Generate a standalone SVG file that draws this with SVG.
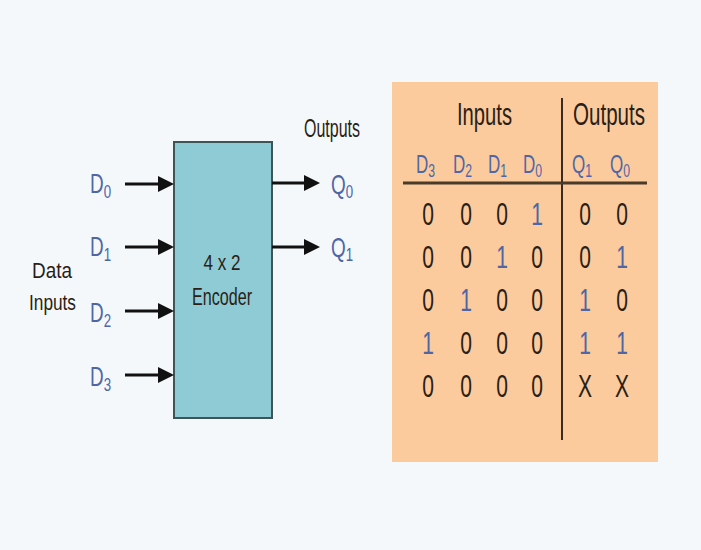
<svg xmlns="http://www.w3.org/2000/svg" width="701" height="550" viewBox="0 0 701 550">
<style>
text{font-family:"Liberation Sans",Arial,sans-serif}
.dk{fill:#2a1e16}
.bl{fill:#4f66a6}
.lbl{font-size:27px}
.sub{font-size:19px}
.hd{font-size:25px}
.hsub{font-size:18px}
.dg{font-size:31px;text-anchor:middle}
.conn{stroke:#111;stroke-width:3;fill:none;marker-end:url(#ah)}
</style>
<defs>
<marker id="ah" markerUnits="userSpaceOnUse" markerWidth="16" markerHeight="16" refX="0" refY="8" orient="auto">
<path d="M0,0 L16,8 L0,16 Z" fill="#111"/>
</marker>
</defs>
<rect x="0" y="0" width="701" height="550" fill="#f5f8fb"/>

<g id="encoder">
<rect x="174" y="142" width="98" height="276" fill="#8ecbd4" stroke="#3d5557" stroke-width="2"/>
<text class="dk" x="222" y="270" font-size="22" text-anchor="middle" textLength="37" lengthAdjust="spacingAndGlyphs">4 x 2</text>
<text class="dk" x="222" y="305" font-size="23" text-anchor="middle" textLength="60" lengthAdjust="spacingAndGlyphs">Encoder</text>
</g>

<g id="connectors">
<line class="conn" x1="125" y1="184" x2="158" y2="184"/>
<line class="conn" x1="125" y1="247" x2="158" y2="247"/>
<line class="conn" x1="125" y1="311" x2="158" y2="311"/>
<line class="conn" x1="125" y1="375" x2="158" y2="375"/>
<line class="conn" x1="272" y1="183" x2="304" y2="183"/>
<line class="conn" x1="272" y1="247" x2="304" y2="247"/>
</g>

<g id="input-labels">
<text class="dk" x="32" y="278" font-size="22" textLength="40" lengthAdjust="spacingAndGlyphs">Data</text>
<text class="dk" x="29" y="310" font-size="22" textLength="47" lengthAdjust="spacingAndGlyphs">Inputs</text>
<text class="bl lbl" transform="translate(90,193) scale(0.7,1)">D<tspan class="sub" dy="5">0</tspan></text>
<text class="bl lbl" transform="translate(90,256) scale(0.7,1)">D<tspan class="sub" dy="5">1</tspan></text>
<text class="bl lbl" transform="translate(90,322) scale(0.7,1)">D<tspan class="sub" dy="5">2</tspan></text>
<text class="bl lbl" transform="translate(90,386) scale(0.7,1)">D<tspan class="sub" dy="5">3</tspan></text>
</g>

<g id="output-labels">
<text class="dk" x="304" y="137" font-size="25" textLength="56" lengthAdjust="spacingAndGlyphs">Outputs</text>
<text class="bl lbl" transform="translate(331,194) scale(0.7,1)">Q<tspan class="sub" dy="4">0</tspan></text>
<text class="bl lbl" transform="translate(331,257) scale(0.7,1)">Q<tspan class="sub" dy="4">1</tspan></text>
</g>

<g id="truth-table">
<rect x="392" y="82" width="266" height="380" fill="#fbcb9e"/>
<line x1="562" y1="98" x2="562" y2="440" stroke="#3a2a20" stroke-width="2"/>
<line x1="403" y1="183" x2="647" y2="183" stroke="#4a3a2a" stroke-width="3"/>
<text class="dk" x="457" y="125" font-size="31" textLength="55" lengthAdjust="spacingAndGlyphs">Inputs</text>
<text class="dk" x="573" y="125" font-size="31" textLength="72" lengthAdjust="spacingAndGlyphs">Outputs</text>
<text class="bl hd" transform="translate(416,173) scale(0.68,1)">D<tspan class="hsub" dy="4">3</tspan></text>
<text class="bl hd" transform="translate(453,173) scale(0.68,1)">D<tspan class="hsub" dy="4">2</tspan></text>
<text class="bl hd" transform="translate(488,173) scale(0.68,1)">D<tspan class="hsub" dy="4">1</tspan></text>
<text class="bl hd" transform="translate(523,173) scale(0.68,1)">D<tspan class="hsub" dy="4">0</tspan></text>
<text class="bl hd" transform="translate(572,173) scale(0.68,1)">Q<tspan class="hsub" dy="4">1</tspan></text>
<text class="bl hd" transform="translate(610,173) scale(0.68,1)">Q<tspan class="hsub" dy="4">0</tspan></text>

<text class="dk dg" transform="translate(428,225) scale(0.68,1)">0</text>
<text class="dk dg" transform="translate(466,225) scale(0.68,1)">0</text>
<text class="dk dg" transform="translate(502,225) scale(0.68,1)">0</text>
<text class="bl dg" transform="translate(537,225) scale(0.68,1)">1</text>
<text class="dk dg" transform="translate(585,225) scale(0.68,1)">0</text>
<text class="dk dg" transform="translate(622,225) scale(0.68,1)">0</text>

<text class="dk dg" transform="translate(428,268) scale(0.68,1)">0</text>
<text class="dk dg" transform="translate(466,268) scale(0.68,1)">0</text>
<text class="bl dg" transform="translate(502,268) scale(0.68,1)">1</text>
<text class="dk dg" transform="translate(537,268) scale(0.68,1)">0</text>
<text class="dk dg" transform="translate(585,268) scale(0.68,1)">0</text>
<text class="bl dg" transform="translate(622,268) scale(0.68,1)">1</text>

<text class="dk dg" transform="translate(428,311) scale(0.68,1)">0</text>
<text class="bl dg" transform="translate(466,311) scale(0.68,1)">1</text>
<text class="dk dg" transform="translate(502,311) scale(0.68,1)">0</text>
<text class="dk dg" transform="translate(537,311) scale(0.68,1)">0</text>
<text class="bl dg" transform="translate(585,311) scale(0.68,1)">1</text>
<text class="dk dg" transform="translate(622,311) scale(0.68,1)">0</text>

<text class="bl dg" transform="translate(428,354) scale(0.68,1)">1</text>
<text class="dk dg" transform="translate(466,354) scale(0.68,1)">0</text>
<text class="dk dg" transform="translate(502,354) scale(0.68,1)">0</text>
<text class="dk dg" transform="translate(537,354) scale(0.68,1)">0</text>
<text class="bl dg" transform="translate(585,354) scale(0.68,1)">1</text>
<text class="bl dg" transform="translate(622,354) scale(0.68,1)">1</text>

<text class="dk dg" transform="translate(428,397) scale(0.68,1)">0</text>
<text class="dk dg" transform="translate(466,397) scale(0.68,1)">0</text>
<text class="dk dg" transform="translate(502,397) scale(0.68,1)">0</text>
<text class="dk dg" transform="translate(537,397) scale(0.68,1)">0</text>
<text class="dk dg" transform="translate(585,397) scale(0.68,1)">X</text>
<text class="dk dg" transform="translate(622,397) scale(0.68,1)">X</text>
</g>
</svg>
